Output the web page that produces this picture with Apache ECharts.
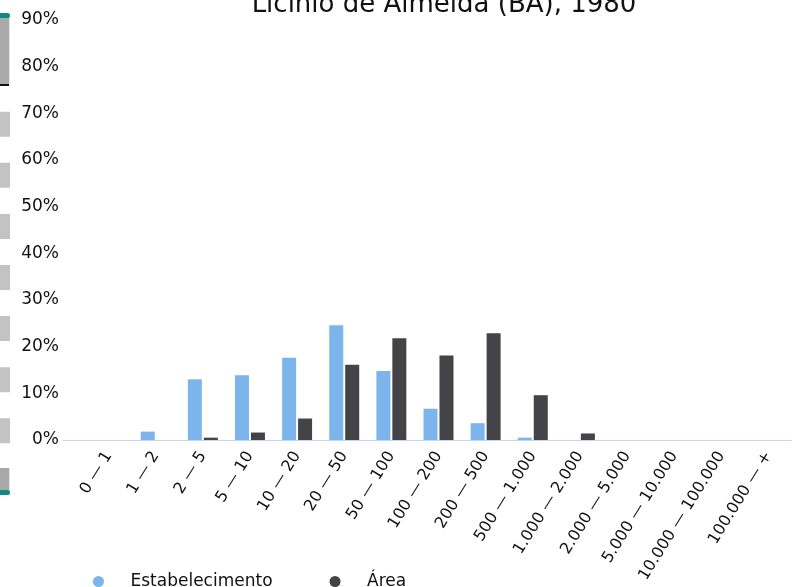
<!DOCTYPE html>
<html><head><meta charset="utf-8">
<script src="https://cdn.jsdelivr.net/npm/echarts@6/dist/echarts.min.js"></script>
<style>html,body{margin:0;padding:0;background:#fff}#c{width:792px;height:587px}</style>
</head><body><div id="c"></div>
<script>
const titleText = 'Licínio de Almeida (BA), 1980';
const categories = ['0 — 1','1 — 2','2 — 5','5 — 10','10 — 20','20 — 50','50 — 100','100 — 200','200 — 500','500 — 1.000','1.000 — 2.000','2.000 — 5.000','5.000 — 10.000','10.000 — 100.000','100.000 — +'];
const seriesNames = ['Estabelecimento', 'Área'];
const estabelecimento = [0, 1.8, 13.0, 13.9, 17.6, 24.6, 14.8, 6.7, 3.6, 0.5, 0, 0, 0, 0, 0];
const area = [0, 0, 0.5, 1.6, 4.6, 16.1, 21.8, 18.1, 22.9, 9.6, 1.4, 0, 0, 0, 0];
const yMin = 0, yMax = 90, yInterval = 10;
const colors = ['#7cb5ec', '#434348'];

const FONT = 'DejaVu Sans';
const chart = echarts.init(document.getElementById('c'), null, {renderer: 'canvas'});
chart.setOption({
  animation: false,
  backgroundColor: '#fff',
  textStyle: {fontFamily: FONT},
  title: {
    text: titleText, left: 439, textAlign: 'center', top: -13,
    textStyle: {fontFamily: FONT, fontSize: 26, fontWeight: 'normal', color: '#111'}
  },
  legend: {
    data: seriesNames, left: 88, top: 568, icon: 'circle',
    itemWidth: 54, itemHeight: 11, itemGap: 57,
    textStyle: {fontFamily: FONT, fontSize: 17, color: '#111'}
  },
  grid: [
    {left: 85, right: -8, top: 20, bottom: 147, containLabel: false},
    {left: 63, right: -8, top: 20, bottom: 147, containLabel: false}
  ],
  xAxis: [
    {type: 'category', gridIndex: 0, data: categories,
     axisLine: {show: false}, axisTick: {show: false},
     axisLabel: {rotate: 58, interval: 0, margin: 13, fontFamily: FONT, fontSize: 16, color: '#111'}},
    {type: 'value', gridIndex: 1, min: 0, max: 1,
     axisLine: {show: true, onZero: false, lineStyle: {color: '#ccd6eb', width: 1}},
     axisTick: {show: false}, axisLabel: {show: false}, splitLine: {show: false}}
  ],
  yAxis: [
    {type: 'value', gridIndex: 0, min: yMin, max: yMax, interval: yInterval,
     axisLine: {show: false}, axisTick: {show: false}, splitLine: {show: false},
     axisLabel: {formatter: '{value}%', margin: 26, padding: [5, 0, 0, 0], fontFamily: FONT, fontSize: 17, color: '#111'}},
    {type: 'value', gridIndex: 1, min: 0, max: 1, show: false}
  ],
  series: [
    {name: seriesNames[0], type: 'bar', xAxisIndex: 0, yAxisIndex: 0, data: estabelecimento,
     barWidth: 14, barGap: '14%', itemStyle: {color: colors[0]}},
    {name: seriesNames[1], type: 'bar', xAxisIndex: 0, yAxisIndex: 0, data: area,
     barWidth: 14, barGap: '14%', itemStyle: {color: colors[1]}}
  ],
  graphic: [
    {type: 'rect', shape: {x: -6, y: 15, width: 15.3, height: 70}, style: {fill: '#aaaaaa'}, silent: true},
    {type: 'rect', shape: {x: -6, y: 13, width: 16, height: 5, r: [0, 2.5, 2.5, 0]}, style: {fill: '#0f8888'}, silent: true},
    {type: 'rect', shape: {x: -6, y: 84, width: 15, height: 2}, style: {fill: '#111'}, silent: true},
    {type: 'line', shape: {x1: 0, y1: 111.7, x2: 0, y2: 443.5}, style: {stroke: '#c3c3c3', lineWidth: 20, lineDash: [25, 26.1]}, silent: true},
    {type: 'rect', shape: {x: -6, y: 468, width: 15.3, height: 25}, style: {fill: '#a8a8a8'}, silent: true},
    {type: 'rect', shape: {x: -6, y: 490, width: 16, height: 5, r: [0, 2.5, 2.5, 0]}, style: {fill: '#0f8888'}, silent: true}
  ]
});
</script>
</body></html>
